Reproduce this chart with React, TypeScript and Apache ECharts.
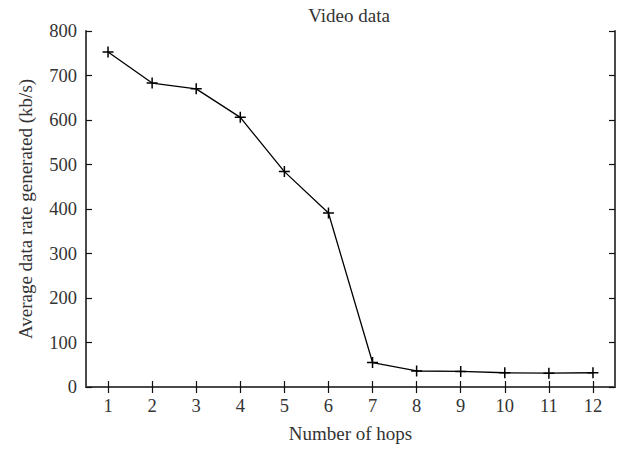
import React, { useEffect, useRef } from "react";
import * as echarts from "echarts";

const hops = ["1", "2", "3", "4", "5", "6", "7", "8", "9", "10", "11", "12"];
const dataRate = [753, 683, 670, 606, 484, 391, 55, 36, 35, 32, 31, 32];
const yTicks = { min: 0, max: 800, interval: 100 };

const FONT = "'Liberation Serif', 'DejaVu Serif', serif";
const AXIS_COLOR = "#4a4a4a";

export default function App() {
  const ref = useRef<HTMLDivElement>(null);
  useEffect(() => {
    if (!ref.current) return;
    const chart = echarts.init(ref.current, undefined, { renderer: "svg" });
    const tick = { show: true, inside: true, length: 6, lineStyle: { color: "#111", width: 1.2 } };
    const line = { show: true, lineStyle: { color: AXIS_COLOR, width: 2 } };
    chart.setOption({
      animation: false,
      backgroundColor: "#fff",
      title: {
        text: "Video data",
        left: 344,
        textAlign: "center",
        top: 1,
        textStyle: { fontFamily: FONT, fontSize: 19, fontWeight: "normal", color: "#333" },
      },
      grid: { left: 86, right: 7, top: 31, bottom: 63, containLabel: false },
      xAxis: [
        {
          type: "category",
          data: hops,
          boundaryGap: true,
          position: "bottom",
          name: "Number of hops",
          nameLocation: "middle",
          nameGap: 37,
          nameTextStyle: { fontFamily: FONT, fontSize: 19, color: "#333" },
          axisLine: line,
          axisTick: { ...tick, alignWithLabel: true },
          axisLabel: { fontFamily: FONT, fontSize: 18.5, color: "#333", margin: 9 },
          splitLine: { show: false },
        },
        {
          type: "category",
          data: hops,
          boundaryGap: true,
          position: "top",
          axisLine: line,
          axisTick: { ...tick, alignWithLabel: true },
          axisLabel: { show: false },
          splitLine: { show: false },
        },
      ],
      yAxis: [
        {
          type: "value",
          min: yTicks.min,
          max: yTicks.max,
          interval: yTicks.interval,
          position: "left",
          name: "Average data rate generated (kb/s)",
          nameLocation: "middle",
          nameGap: 51,
          nameTextStyle: { fontFamily: FONT, fontSize: 19, color: "#333" },
          axisLine: line,
          axisTick: tick,
          axisLabel: { fontFamily: FONT, fontSize: 18.5, color: "#333", margin: 9 },
          splitLine: { show: false },
        },
        {
          type: "value",
          min: yTicks.min,
          max: yTicks.max,
          interval: yTicks.interval,
          position: "right",
          axisLine: line,
          axisTick: tick,
          axisLabel: { show: false },
          splitLine: { show: false },
        },
      ],
      series: [
        {
          type: "line",
          data: dataRate,
          xAxisIndex: 0,
          yAxisIndex: 0,
          symbol: "path://M5,0 L5,10 M0,5 L10,5",
          symbolSize: 11,
          showSymbol: true,
          lineStyle: { color: "#000", width: 1.3 },
          itemStyle: { color: "none", borderColor: "#000", borderWidth: 1.5 },
        },
      ],
    });
    return () => chart.dispose();
  }, []);
  return <div ref={ref} style={{ width: 622, height: 450, position: "absolute", left: 0, top: 0 }} />;
}
